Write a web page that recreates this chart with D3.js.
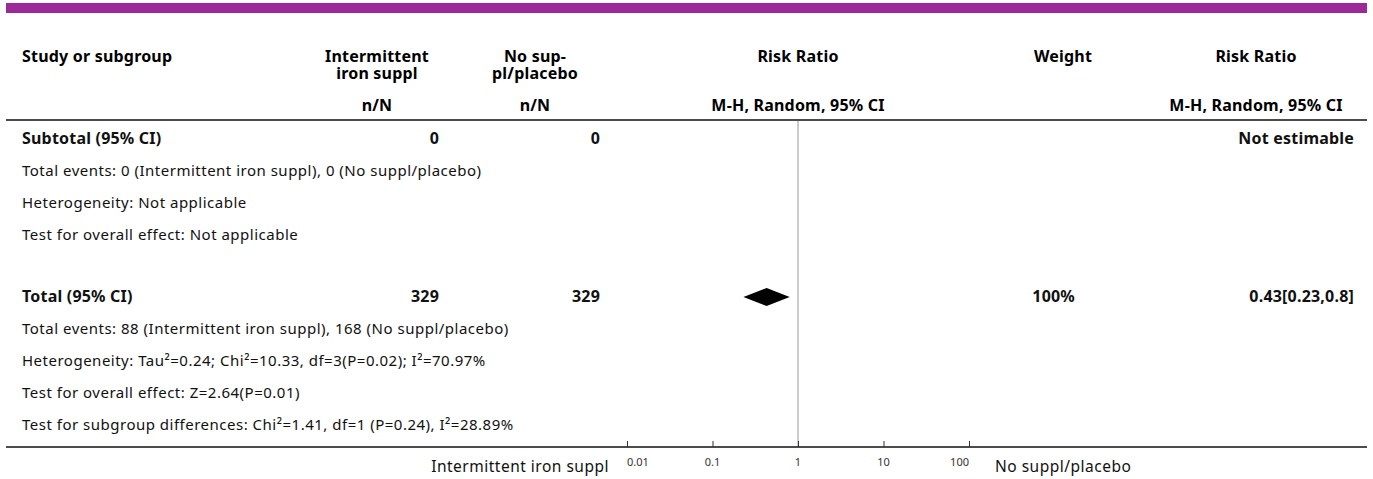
<!DOCTYPE html>
<html>
<head>
<meta charset="utf-8">
<script src="https://cdn.jsdelivr.net/npm/d3@7"></script>
<style>
  html, body { margin: 0; padding: 0; background: #fff; }
  svg { display: block; font-family: "Noto Sans", "Open Sans", sans-serif; }
</style>
</head>
<body>
<svg id="chart" width="1373" height="479"></svg>
<script>
// ---------- data ----------
const groupA = "Intermittent iron suppl";
const groupB = "No suppl/placebo";
const headerCols = ["Study or subgroup", "Intermittent\niron suppl", "No sup-\npl/placebo", "Risk Ratio", "Weight", "Risk Ratio"];
const subHeaders = ["", "n/N", "n/N", "M-H, Random, 95% CI", "", "M-H, Random, 95% CI"];
const rowLabels = [
  "Subtotal (95% CI)",
  "Total events: 0 (Intermittent iron suppl), 0 (No suppl/placebo)",
  "Heterogeneity: Not applicable",
  "Test for overall effect: Not applicable",
  "",
  "Total (95% CI)",
  "Total events: 88 (Intermittent iron suppl), 168 (No suppl/placebo)",
  "Heterogeneity: Tau\u00B2=0.24; Chi\u00B2=10.33, df=3(P=0.02); I\u00B2=70.97%",
  "Test for overall effect: Z=2.64(P=0.01)",
  "Test for subgroup differences: Chi\u00B2=1.41, df=1 (P=0.24), I\u00B2=28.89%"
];
const rowBold = [true, false, false, false, false, true, false, false, false, false];
const nA = ["0", "", "", "", "", "329", "", "", "", ""];
const nB = ["0", "", "", "", "", "329", "", "", "", ""];
const weights = ["", "", "", "", "", "100%", "", "", "", ""];
const ciText = ["Not estimable", "", "", "", "", "0.43[0.23,0.8]", "", "", "", ""];
const pooledEst = [null, null, null, null, null, 0.43, null, null, null, null];
const pooledLo = [null, null, null, null, null, 0.23, null, null, null, null];
const pooledHi = [null, null, null, null, null, 0.8, null, null, null, null];
const axisTicks = [0.01, 0.1, 1, 10, 100];
const axisTickLabels = ["0.01", "0.1", "1", "10", "100"];

// ---------- layout ----------
const svg = d3.select("#chart");
const left = 6, right = 1367;
const x = d3.scaleLog().domain([0.01, 100]).range([627, 969]);
const rowY = d3.scaleLinear().domain([0, 1]).range([139, 171]);
const yOf = i => rowY(i) - (i >= 5 ? 2 : 0);
const headerLineY = 120, axisY = 447;
const colX = { study: 22, nA: 439, nB: 600, nAc: 377, nBc: 535, rr: 798, w: 1063, wR: 1075, ci: 1354, cic: 1256 };

// purple band
svg.append("rect").attr("x", left).attr("y", 3).attr("width", right - left).attr("height", 10).attr("fill", "#9B2A98");

// headers
const hdr = svg.append("g").attr("font-weight", "bold").attr("font-size", 16).attr("letter-spacing", 0.2).attr("fill", "#000");
const headerPos = [
  { x: colX.study, anchor: "start" },
  { x: colX.nAc, anchor: "middle" },
  { x: colX.nBc, anchor: "middle" },
  { x: colX.rr, anchor: "middle" },
  { x: colX.w, anchor: "middle" },
  { x: colX.cic, anchor: "middle" }
];
headerCols.forEach((h, i) => {
  const lines = h.split("\n");
  lines.forEach((ln, j) => {
    hdr.append("text").attr("text-anchor", headerPos[i].anchor)
      .attr("x", headerPos[i].x).attr("y", 62 + j * 17).text(ln);
  });
});
subHeaders.forEach((h, i) => {
  if (!h) return;
  hdr.append("text").attr("x", headerPos[i].x).attr("y", 111).attr("text-anchor", headerPos[i].anchor).text(h);
});

svg.append("line").attr("x1", left).attr("x2", right).attr("y1", headerLineY).attr("y2", headerLineY)
  .attr("stroke", "#111").attr("stroke-width", 1.5);

// null effect line
svg.append("line").attr("x1", x(1)).attr("x2", x(1)).attr("y1", headerLineY + 1).attr("y2", axisY)
  .attr("stroke", "#999").attr("stroke-width", 1);

// rows
const body = svg.append("g").attr("font-size", 15).attr("letter-spacing", 0.5).attr("fill", "#111");
rowLabels.forEach((lab, i) => {
  const y = yOf(i) + 5;
  const fw = rowBold[i] ? "bold" : "normal";
  if (lab) body.append("text").attr("x", colX.study).attr("y", y).attr("font-weight", fw)
    .attr("font-size", rowBold[i] ? 16 : 15).attr("letter-spacing", rowBold[i] ? 0.2 : 0.5).text(lab);
  const bold = sel => sel.attr("font-weight", "bold").attr("font-size", 16).attr("letter-spacing", 0.2);
  if (nA[i]) body.append("text").attr("x", colX.nA).attr("y", y).attr("text-anchor", "end").call(bold).text(nA[i]);
  if (nB[i]) body.append("text").attr("x", colX.nB).attr("y", y).attr("text-anchor", "end").call(bold).text(nB[i]);
  if (weights[i]) body.append("text").attr("x", colX.wR).attr("y", y).attr("text-anchor", "end").call(bold).text(weights[i]);
  if (ciText[i]) body.append("text").attr("x", colX.ci).attr("y", y).attr("text-anchor", "end").call(bold).text(ciText[i]);
  if (pooledEst[i] != null) {
    const cy = yOf(i), h = 9;
    const pts = [[x(pooledLo[i]), cy], [x(pooledEst[i]), cy - h], [x(pooledHi[i]), cy], [x(pooledEst[i]), cy + h]];
    svg.append("path").attr("d", d3.line()(pts) + "Z").attr("fill", "#000");
  }
});

// bottom axis line (full width) + log axis
svg.append("line").attr("x1", left).attr("x2", right).attr("y1", axisY).attr("y2", axisY)
  .attr("stroke", "#111").attr("stroke-width", 1.5);
const axis = d3.axisTop(x).tickValues(axisTicks).tickFormat((d, i) => axisTickLabels[i]).tickSize(6).tickSizeOuter(0);
const ag = svg.append("g").attr("transform", `translate(0,${axisY})`).call(axis);
ag.select(".domain").remove();
ag.selectAll(".tick line").attr("stroke", "#333");
ag.selectAll(".tick text").remove();
const nT = axisTicks.length;
svg.append("g").selectAll("text").data(axisTicks).join("text")
  .attr("x", d => x(d)).attr("y", 466)
  .attr("text-anchor", (d, i) => i === 0 ? "start" : (i === nT - 1 ? "end" : "middle"))
  .attr("font-size", 11).attr("fill", "#333").text((d, i) => axisTickLabels[i]);

svg.append("text").attr("x", 609).attr("y", 472).attr("text-anchor", "end").attr("font-size", 15.5).attr("letter-spacing", 0.5).attr("fill", "#111").text(groupA);
svg.append("text").attr("x", 995).attr("y", 472).attr("text-anchor", "start").attr("font-size", 15.5).attr("letter-spacing", 0.5).attr("fill", "#111").text(groupB);
</script>
</body>
</html>
